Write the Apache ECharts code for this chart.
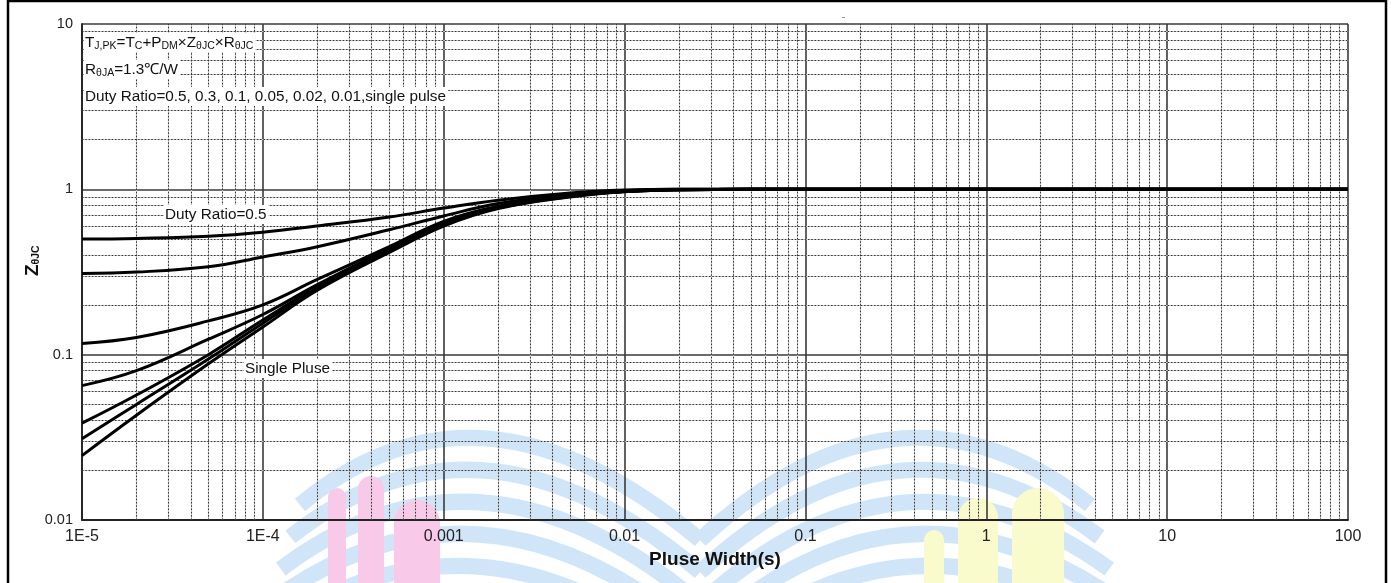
<!DOCTYPE html>
<html>
<head>
<meta charset="utf-8">
<script src="https://cdn.jsdelivr.net/npm/echarts@6/dist/echarts.min.js"></script>
<style>
  html, body { margin: 0; padding: 0; background: #fff; }
  #chart { width: 1391px; height: 583px; }
</style>
</head>
<body>
<div id="chart"></div>
<script>
// Pulse widths (s) at which the curves are sampled
const pulseWidth = [1e-5, 2e-5, 5e-5, 1e-4, 2e-4, 5e-4, 1e-3, 2e-3, 5e-3, 1e-2, 2e-2, 5e-2, 100];

// Normalised transient thermal impedance for each duty ratio
const duty05   = [0.50, 0.505, 0.52, 0.55, 0.60, 0.68, 0.77, 0.86, 0.95, 0.99, 1.0, 1.0, 1.0];
const duty03   = [0.31, 0.316, 0.34, 0.39, 0.45, 0.57, 0.69, 0.82, 0.93, 0.98, 1.0, 1.0, 1.0];
const duty01   = [0.117, 0.127, 0.16, 0.20, 0.285, 0.45, 0.64, 0.79, 0.92, 0.975, 0.995, 1.0, 1.0];
const duty005  = [0.065, 0.08, 0.124, 0.175, 0.265, 0.44, 0.625, 0.78, 0.915, 0.972, 0.995, 1.0, 1.0];
const duty002  = [0.0385, 0.057, 0.10, 0.162, 0.256, 0.43, 0.615, 0.775, 0.91, 0.97, 0.995, 1.0, 1.0];
const duty001  = [0.031, 0.05, 0.094, 0.155, 0.25, 0.422, 0.61, 0.77, 0.905, 0.97, 0.995, 1.0, 1.0];
const single   = [0.0245, 0.043, 0.088, 0.147, 0.245, 0.415, 0.60, 0.765, 0.90, 0.968, 0.995, 1.0, 1.0];

// Tick labels, one per decade
const xTickLabels = ['1E-5', '1E-4', '0.001', '0.01', '0.1', '1', '10', '100'];
const yTickLabels = ['0.01', '0.1', '1', '10'];

// Intermediate (2..9 x decade) grid positions
const xMinor = [];
for (let e = -5; e < 2; e++) for (let m = 2; m <= 9; m++) xMinor.push(m * Math.pow(10, e));
const yMinor = [];
for (let e = -2; e < 1; e++) for (let m = 2; m <= 9; m++) yMinor.push(m * Math.pow(10, e));

const curves = [duty05, duty03, duty01, duty005, duty002, duty001, single];

const font = 'Liberation Sans, Arial, sans-serif';
const chart = echarts.init(document.getElementById('chart'), null, { renderer: 'canvas' });

const curveSeries = curves.map(vals => ({
  type: 'line',
  data: pulseWidth.map((x, i) => [x, vals[i]]),
  smooth: 0.4,
  showSymbol: false,
  silent: true,
  z: 5,
  lineStyle: { color: '#000', width: 3 }
}));

const minorSolid = { color: '#c8c8c8', width: 1.2, type: 'solid' };
const minorDots = { color: '#333', width: 1, type: [1.5, 1.8] };

function minorGridSeries(style) {
  return {
    type: 'line',
    data: [[1, 1]],
    showSymbol: false,
    silent: true,
    lineStyle: { opacity: 0 },
    z: 2,
    markLine: {
      silent: true,
      symbol: 'none',
      precision: 12,
      label: { show: false },
      lineStyle: style,
      animation: false,
      data: xMinor.map(v => ({ xAxis: v })).concat(yMinor.map(v => ({ yAxis: v })))
    }
  };
}

// faint logo painted underneath the grid
const wmBlue = '#d0e6f8';
const wmPink = '#f8c9e8';
const wmYellow = '#fafbcc';
function logoShapes() {
  const out = [];
  const stroke = { fill: 'none', stroke: wmBlue, lineWidth: 16 };
  [0, 32, 64, 96, 128].forEach(dy => {
    out.push({ type: 'bezierCurve', shape: { x1: 300 - dy * 0.3, y1: 505 + dy, cpx1: 480, cpy1: 355 + dy, x2: 700, y2: 540 + dy }, style: stroke });
    out.push({ type: 'bezierCurve', shape: { x1: 700, y1: 540 + dy, cpx1: 900, cpy1: 355 + dy, x2: 1090 + dy * 0.3, y2: 505 + dy }, style: stroke });
  });
  const arch = (x, y, w, color) => ({
    type: 'rect', shape: { x: x, y: y, width: w, height: 620 - y, r: [w / 2, w / 2, 0, 0] }, style: { fill: color }
  });
  out.push(arch(328, 488, 18, wmPink), arch(358, 476, 26, wmPink), arch(394, 500, 46, wmPink));
  out.push(arch(924, 530, 20, wmYellow), arch(958, 498, 40, wmYellow), arch(1012, 488, 52, wmYellow));
  return out;
}
const logoSeries = {
  type: 'custom',
  data: [[1, 1]],
  silent: true,
  clip: false,
  z: -5,
  renderItem: () => ({ type: 'group', children: logoShapes() })
};

const sub = { fontSize: 10.5, lineHeight: 10, verticalAlign: 'bottom', fontFamily: font, fill: '#111' };
const main = { fontSize: 15.3, lineHeight: 19, fontFamily: font, fill: '#111' };

function note(x, y, rich, text) {
  return {
    type: 'text', left: x, top: y, z: 100,
    style: {
      text: text, rich: rich, fontFamily: font, fontSize: 15, fill: '#111',
      backgroundColor: '#fff', padding: [0, 2, 0, 1]
    }
  };
}

chart.setOption({
  animation: false,
  backgroundColor: '#fff',
  grid: { left: 82, right: 43, top: 24, bottom: 63 },
  xAxis: {
    type: 'log', logBase: 10, min: 1e-5, max: 100, interval: 1, splitNumber: 7,
    name: 'Pluse Width(s)', nameLocation: 'middle', nameGap: 21,
    nameTextStyle: { fontFamily: font, fontSize: 19, fontWeight: 'bold', color: '#111' },
    axisLine: { show: true, lineStyle: { color: '#222', width: 1.8 } },
    axisTick: { show: false },
    axisLabel: {
      margin: 9, fontFamily: font, fontSize: 16, color: '#222',
      formatter: v => xTickLabels[Math.round(Math.log10(v)) + 5]
    },
    splitLine: { show: true, lineStyle: { color: '#3a3a3a', width: 1.6 } }
  },
  yAxis: {
    type: 'log', logBase: 10, min: 0.01, max: 10, interval: 1, splitNumber: 3,
    axisLine: { show: true, lineStyle: { color: '#222', width: 1.8 } },
    axisTick: { show: false },
    axisLabel: {
      margin: 9, fontFamily: font, fontSize: 14.5, color: '#222',
      formatter: v => yTickLabels[Math.round(Math.log10(v)) + 2]
    },
    splitLine: { show: true, lineStyle: { color: '#3a3a3a', width: 1.6 } }
  },
  series: [logoSeries, minorGridSeries(minorSolid), minorGridSeries(minorDots)].concat(curveSeries),
  graphic: [
    // outer frame
    { type: 'rect', z: 100, silent: true,
      shape: { x: 8, y: 1, width: 1378, height: 700 },
      style: { fill: 'none', stroke: '#000', lineWidth: 2.5 } },
    { type: 'rect', z: 100, silent: true,
      shape: { x: 842, y: 17, width: 3, height: 1 },
      style: { fill: '#999' } },
    // y axis title
    {
      type: 'text', x: 23, y: 276, rotation: Math.PI / 2, z: 100,
      style: {
        text: '{z|Z}{s|θJC}',
        rich: {
          z: { fontSize: 19, fontWeight: 'bold', fontFamily: font, fill: '#111', lineHeight: 19 },
          s: { fontSize: 10.5, fontWeight: 'bold', fontFamily: font, fill: '#111', lineHeight: 10, verticalAlign: 'bottom' }
        }
      }
    },
    note(84, 33, { m: main, s: sub },
      '{m|T}{s|J,PK}{m|=T}{s|C}{m|+P}{s|DM}{m|×Z}{s|θJC}{m|×R}{s|θJC}'),
    note(84, 60, { m: main, s: sub }, '{m|R}{s|θJA}{m|=1.3℃/W}'),
    note(84, 87, { m: main }, '{m|Duty Ratio=0.5, 0.3, 0.1, 0.05, 0.02, 0.01,single pulse}'),
    note(164, 205, { m: main }, '{m|Duty Ratio=0.5}'),
    note(244, 359, { m: main }, '{m|Single Pluse}')
  ]
});
</script>
</body>
</html>
